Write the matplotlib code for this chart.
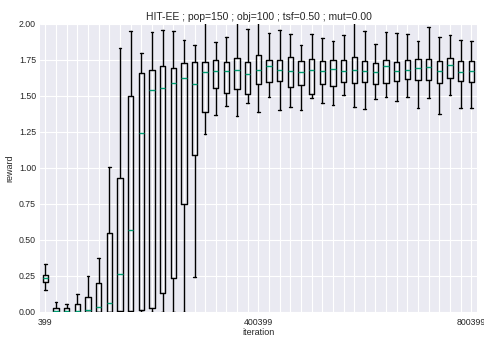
import matplotlib
matplotlib.use("Agg")
import matplotlib.pyplot as plt

# iteration checkpoints (one box each)
iterations = [399, 20399, 40399, 60399, 80399, 100399, 120399, 140399, 160399, 180399,
              200399, 220399, 240399, 260399, 280399, 300399, 320399, 340399, 360399, 380399,
              400399, 420399, 440399, 460399, 480399, 500399, 520399, 540399, 560399, 580399,
              600399, 620399, 640399, 660399, 680399, 700399, 720399, 740399, 760399, 780399,
              800399]
shown_labels = ["399", "400399", "800399"]

# box statistics
whishi = [0.331, 0.065, 0.051, 0.125, 0.245, 0.373, 1.005, 1.83, 1.951, 1.80,
          1.942, 1.956, 1.95, 1.889, 1.857, 2.05, 1.875, 1.907, 2.05, 1.967,
          2.05, 1.94, 1.96, 1.928, 1.856, 1.928, 1.905, 1.884, 1.926, 2.05,
          1.951, 1.859, 1.942, 1.935, 1.931, 1.882, 1.977, 1.907, 1.924, 1.889,
          1.884]
q3 = [0.257, 0.025, 0.023, 0.051, 0.10, 0.20, 0.544, 0.926, 1.50, 1.66,
      1.683, 1.706, 1.692, 1.728, 1.737, 1.738, 1.748, 1.734, 1.761, 1.738,
      1.782, 1.752, 1.748, 1.768, 1.743, 1.755, 1.745, 1.752, 1.748, 1.771,
      1.743, 1.725, 1.75, 1.736, 1.75, 1.757, 1.757, 1.743, 1.764, 1.741,
      1.741]
med = [0.231, 0.007, 0.007, 0.005, 0.01, 0.03, 0.062, 0.262, 0.567, 1.243,
       1.544, 1.558, 1.59, 1.622, 1.581, 1.666, 1.675, 1.675, 1.678, 1.655,
       1.682, 1.706, 1.682, 1.671, 1.664, 1.678, 1.673, 1.69, 1.674, 1.683,
       1.676, 1.667, 1.711, 1.676, 1.681, 1.697, 1.701, 1.671, 1.713, 1.669,
       1.671]
q1 = [0.206, 0.0, 0.0, 0.0, 0.0, 0.0, 0.0, 0.002, 0.007, 0.012,
      0.028, 0.13, 0.231, 0.748, 1.089, 1.386, 1.553, 1.52, 1.55, 1.511,
      1.581, 1.595, 1.602, 1.56, 1.574, 1.511, 1.584, 1.567, 1.597, 1.59,
      1.597, 1.586, 1.59, 1.604, 1.616, 1.611, 1.609, 1.59, 1.623, 1.604,
      1.595]
whislo = [0.150, 0.0, 0.0, 0.0, 0.0, 0.0, 0.0, 0.0, 0.0, 0.0,
          0.0, 0.0, 0.0, 0.0, 0.243, 1.233, 1.367, 1.428, 1.36, 1.449,
          1.388, 1.495, 1.402, 1.421, 1.402, 1.488, 1.453, 1.437, 1.509, 1.424,
          1.41, 1.477, 1.491, 1.465, 1.491, 1.417, 1.484, 1.375, 1.505, 1.417,
          1.417]

plt.style.use("seaborn-v0_8-darkgrid")
plt.rcParams["font.family"] = ["Liberation Sans", "DejaVu Sans"]

stats = []
for i in range(len(iterations)):
    stats.append({"med": med[i], "q1": q1[i], "q3": q3[i],
                  "whislo": whislo[i], "whishi": whishi[i], "fliers": []})

fig, ax = plt.subplots(figsize=(4.84, 3.37), dpi=100)
fig.subplots_adjust(left=0.083, right=0.985, bottom=0.075, top=0.929)

ax.bxp(stats, positions=iterations, widths=10000, showfliers=False,
       manage_ticks=False,
       boxprops=dict(color="black", linewidth=1.0),
       whiskerprops=dict(color="black", linewidth=1.0),
       capprops=dict(color="black", linewidth=1.0),
       medianprops=dict(color="#009E73", linewidth=1.0))

labels = []
for it in iterations:
    labels.append(str(it) if str(it) in shown_labels else "")
ax.set_xticks(iterations)
ax.set_xticklabels(labels, fontsize=6.3)
ax.set_yticks([0, 0.25, 0.5, 0.75, 1.0, 1.25, 1.5, 1.75, 2.0])
ax.set_yticklabels(["0.00", "0.25", "0.50", "0.75", "1.00", "1.25", "1.50", "1.75", "2.00"], fontsize=6.3)
ax.tick_params(axis="y", length=0, pad=3)
ax.tick_params(axis="x", length=0, pad=4.5)
ax.set_xlim(-9600, 810700)
ax.set_ylim(0, 2)

ax.set_xlabel("iteration", fontsize=6.5, labelpad=0.5)
ax.set_ylabel("reward", fontsize=6.5, labelpad=3)
ax.set_title("HIT-EE ; pop=150 ; obj=100 ; tsf=0.50 ; mut=0.00", fontsize=7.5, pad=3)

fig.savefig("out.png", dpi=100)
